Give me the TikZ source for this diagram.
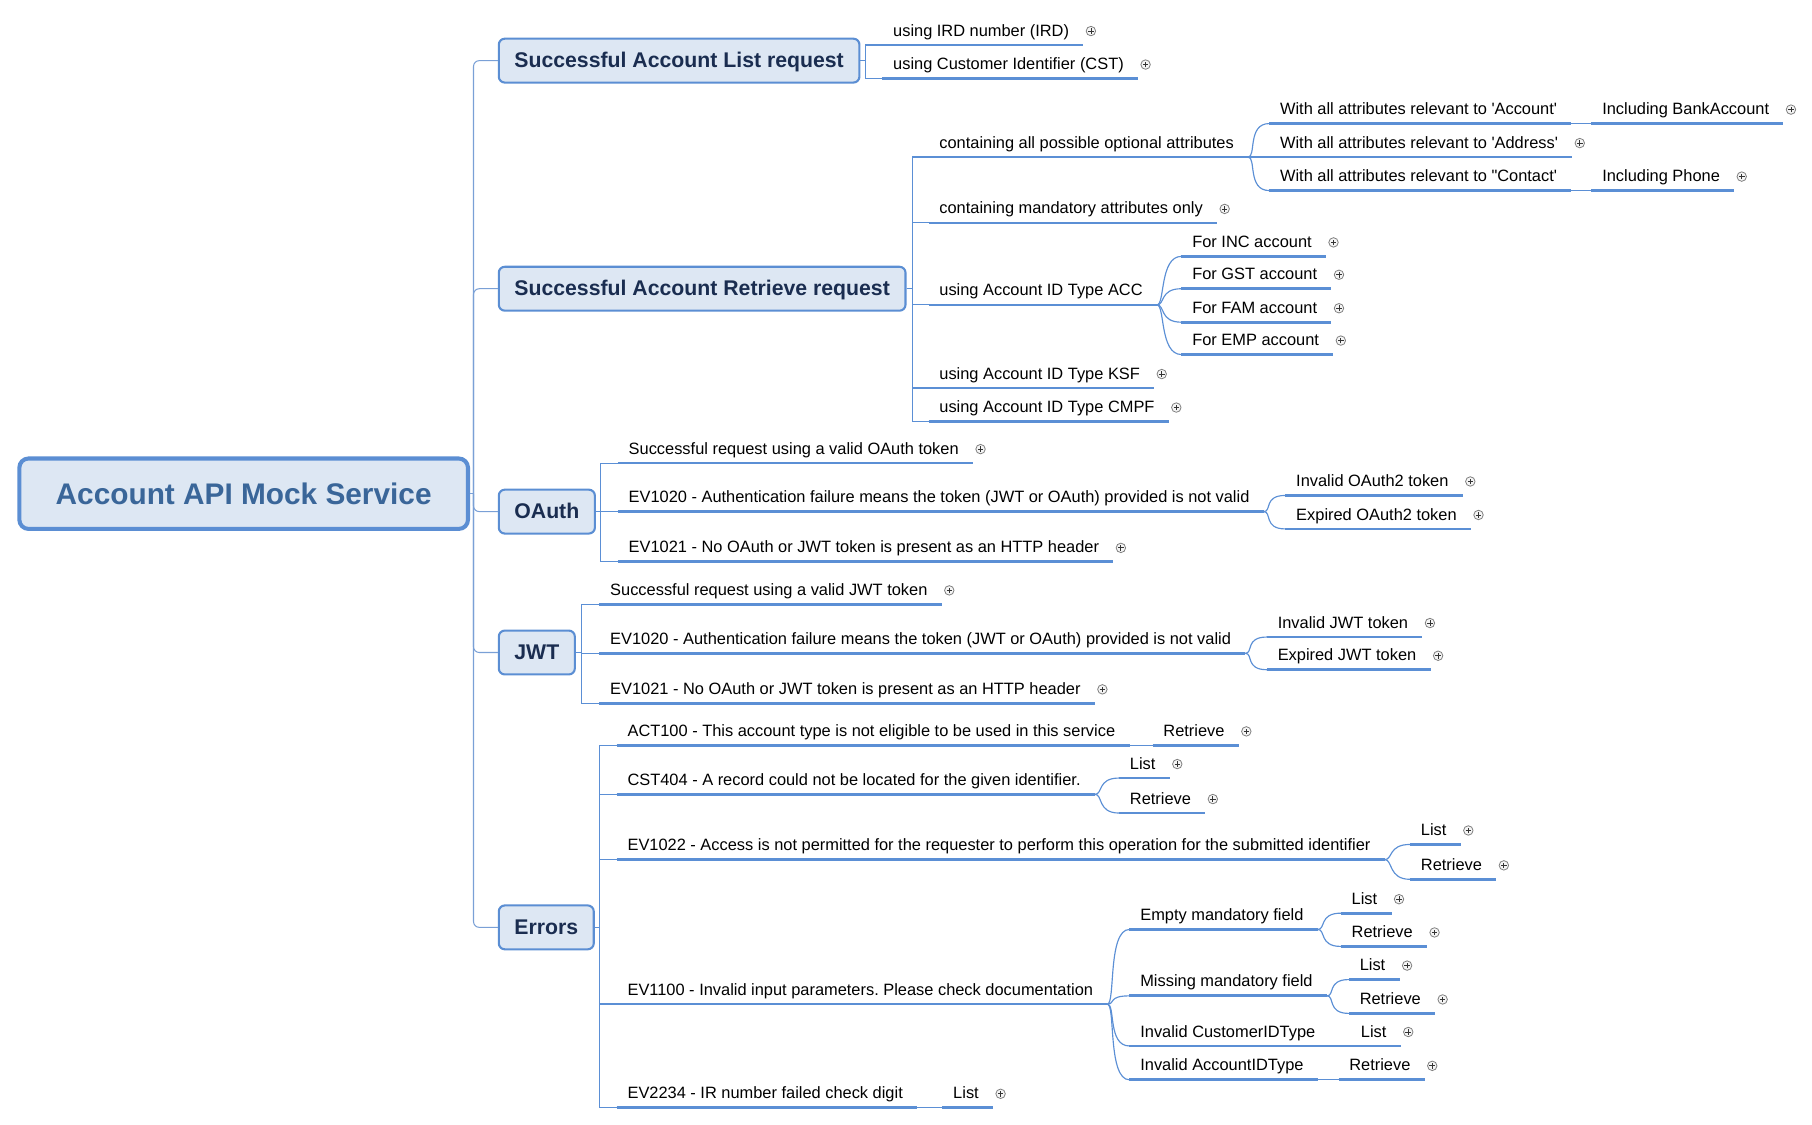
\documentclass[tikz,border=0pt]{standalone}
\usepackage{fontspec}
\setmainfont{Liberation Sans}
\frenchspacing
\definecolor{boxfill}{HTML}{DDE7F3}
\definecolor{boxline}{HTML}{5B8ED3}
\definecolor{ulinec}{HTML}{5B8FD5}
\definecolor{trunkc}{HTML}{7AA0D6}
\definecolor{lonetext}{HTML}{1A2D50}
\definecolor{roottext}{HTML}{3A6699}
\newcommand\leaffont{\fontsize{7.1pt}{8.5pt}\selectfont}
\tikzset{
  rootbox/.style={draw=boxline, fill=boxfill, line width=1.75pt, rounded corners=4pt,
    inner xsep=15.75pt, minimum height=30.5pt,
    font=\fontsize{12.9pt}{15pt}\selectfont\bfseries, text=roottext, anchor=west},
  mainbox/.style={draw=boxline, fill=boxfill, line width=0.9pt, rounded corners=2.6pt,
    inner xsep=6.75pt, minimum height=19pt, text depth=0.5pt,
    font=\fontsize{9.2pt}{11pt}\selectfont\bfseries, text=lonetext, anchor=west},
  leaf/.style={anchor=south west, inner xsep=0pt, inner ysep=3.65pt, text depth=0pt,
    font=\leaffont, text=black,
    execute at begin node={\hspace*{4.5pt}}, execute at end node={\hspace*{6pt}}},
  uline/.style={draw=ulinec, line width=1.2pt},
  conn/.style={draw=ulinec, line width=0.5pt},
  fanline/.style={draw=ulinec, line width=0.5pt},
  trunk/.style={draw=trunkc, line width=0.45pt},
  plusmark/.style={circle, draw=black!50, fill=black!4, line width=0.35pt,
    minimum size=4.1pt, inner sep=0pt,
    path picture={\draw[black!80, line width=0.35pt]
      ([xshift=-1.2pt]path picture bounding box.center) -- ([xshift=1.2pt]path picture bounding box.center)
      ([yshift=-1.2pt]path picture bounding box.center) -- ([yshift=1.2pt]path picture bounding box.center);}}
}
\newcommand\lf[5]{%
  \node[leaf] (#1) at (#2,#3) {#4};
  \draw[uline] (#1.south west) -- (#1.south east);
  \ifnum#5=1 \node[plusmark] (#1p) at ([xshift=3.25pt,yshift=6.05pt]#1.south east) {};\fi
}
\newcommand\fan[2]{\draw[fanline] (#1.south east) .. controls +(7,0) and +(-19,0) .. (#2.south west);}
\newcommand\sgl[2]{\draw[conn] (#1.south east) -- (#2.south west);}
\begin{document}
\begin{tikzpicture}[x=0.5pt,y=-0.5pt]
\useasboundingbox (0,0) rectangle (1569,974);
% root and main branches
\node[rootbox] (root) at (15,427.5) {Account API Mock Service};
\node[mainbox] (lst) at (431,52.5) {Successful Account List request};
\node[mainbox] (ret) at (431,250) {Successful Account Retrieve request};
\node[mainbox] (oau) at (431,443) {OAuth};
\node[mainbox] (jwt) at (431,565) {JWT};
\node[mainbox] (err) at (431,803) {Errors};
\coordinate (tj) at (410,427.5);
\draw[trunk] (root.east) -- (tj);
\foreach \b in {lst,ret,oau,jwt,err}{\draw[trunk, rounded corners=2.5pt] (tj) |- (\b.west);}
% list
\lf{la}{764}{39}{using IRD number (IRD)}{1}
\lf{lb}{764}{68}{using Customer Identifier (CST)}{1}
% retrieve
\lf{ra}{804}{136}{containing all possible optional attributes}{0}
\lf{rb}{804}{193}{containing mandatory attributes only}{1}
\lf{rc}{804}{264}{using Account ID Type ACC}{0}
\lf{rd}{804}{336}{using Account ID Type KSF}{1}
\lf{re}{804}{365}{using Account ID Type CMPF}{1}
\lf{raa}{1099}{107}{With all attributes relevant to \textquotesingle Account\textquotesingle}{0}
\lf{raaa}{1378}{107}{Including BankAccount}{1}
\lf{rab}{1099}{136}{With all attributes relevant to \textquotesingle Address\textquotesingle}{1}
\lf{rac}{1099}{165}{With all attributes relevant to \textquotedbl Contact\textquotesingle}{0}
\lf{raca}{1378}{165}{Including Phone}{1}
\lf{rca}{1023}{222}{For INC account}{1}
\lf{rcb}{1023}{250}{For GST account}{1}
\lf{rcc}{1023}{279}{For FAM account}{1}
\lf{rcd}{1023}{307}{For EMP account}{1}
% oauth
\lf{oa}{535}{401}{Successful request using a valid OAuth token}{1}
\lf{ob}{535}{443}{EV1020 - Authentication failure means the token (JWT or OAuth) provided is not valid}{0}
\lf{oc}{535}{486.5}{EV1021 - No OAuth or JWT token is present as an HTTP header}{1}
\lf{oba}{1113}{429}{Invalid OAuth2 token}{1}
\lf{obb}{1113}{458}{Expired OAuth2 token}{1}
% jwt
\lf{ja}{519}{523.3}{Successful request using a valid JWT token}{1}
\lf{jb}{519}{565.7}{EV1020 - Authentication failure means the token (JWT or OAuth) provided is not valid}{0}
\lf{jc}{519}{609}{EV1021 - No OAuth or JWT token is present as an HTTP header}{1}
\lf{jba}{1097}{551.6}{Invalid JWT token}{1}
\lf{jbb}{1097}{579.9}{Expired JWT token}{1}
% errors
\lf{ea}{534}{645.4}{ACT100 - This account type is not eligible to be used in this service}{0}
\lf{eaa}{998}{645.4}{Retrieve}{1}
\lf{eb}{534}{687.8}{CST404 - A record could not be located for the given identifier.}{0}
\lf{eba}{969}{673.7}{List}{1}
\lf{ebb}{969}{704}{Retrieve}{1}
\lf{ec}{534}{744.3}{EV1022 - Access is not permitted for the requester to perform this operation for the submitted identifier}{0}
\lf{eca}{1221}{731.2}{List}{1}
\lf{ecb}{1221}{761.4}{Retrieve}{1}
\lf{ed}{534}{869.4}{EV1100 - Invalid input parameters. Please check documentation}{0}
\lf{eda}{978}{804.8}{Empty mandatory field}{0}
\lf{edaa}{1161}{790.7}{List}{1}
\lf{edab}{1161}{819.5}{Retrieve}{1}
\lf{edb}{978}{862.3}{Missing mandatory field}{0}
\lf{edba}{1168}{848.2}{List}{1}
\lf{edbb}{1168}{877.5}{Retrieve}{1}
\lf{edc}{978}{905.7}{Invalid CustomerIDType}{0}
\lf{edca}{1169}{905.7}{List}{1}
\lf{edd}{978}{935}{Invalid AccountIDType}{0}
\lf{edda}{1159}{935}{Retrieve}{1}
\lf{ee}{534}{959.2}{EV2234 - IR number failed check digit}{0}
\lf{eea}{816}{959.2}{List}{1}
% brackets from main boxes
\foreach \c in {la,lb}{\draw[conn] (lst.east) -- ++(4,0) |- (\c.south west);}
\foreach \c in {ra,rb,rc,rd,re}{\draw[conn] (ret.east) -- ++(5,0) |- (\c.south west);}
\foreach \c in {oa,ob,oc}{\draw[conn] (oau.east) -- ++(4,0) |- (\c.south west);}
\foreach \c in {ja,jb,jc}{\draw[conn] (jwt.east) -- ++(5,0) |- (\c.south west);}
\foreach \c in {ea,eb,ec,ed,ee}{\draw[conn] (err.east) -- ++(4,0) |- (\c.south west);}
% fans and single links
\fan{ra}{raa}\fan{ra}{rab}\fan{ra}{rac}
\sgl{raa}{raaa}\sgl{rac}{raca}
\fan{rc}{rca}\fan{rc}{rcb}\fan{rc}{rcc}\fan{rc}{rcd}
\fan{ob}{oba}\fan{ob}{obb}
\fan{jb}{jba}\fan{jb}{jbb}
\sgl{ea}{eaa}
\fan{eb}{eba}\fan{eb}{ebb}
\fan{ec}{eca}\fan{ec}{ecb}
\fan{ed}{eda}\fan{ed}{edb}\fan{ed}{edc}\fan{ed}{edd}
\fan{eda}{edaa}\fan{eda}{edab}
\fan{edb}{edba}\fan{edb}{edbb}
\sgl{edc}{edca}\sgl{edd}{edda}
\sgl{ee}{eea}
\end{tikzpicture}
\end{document}
